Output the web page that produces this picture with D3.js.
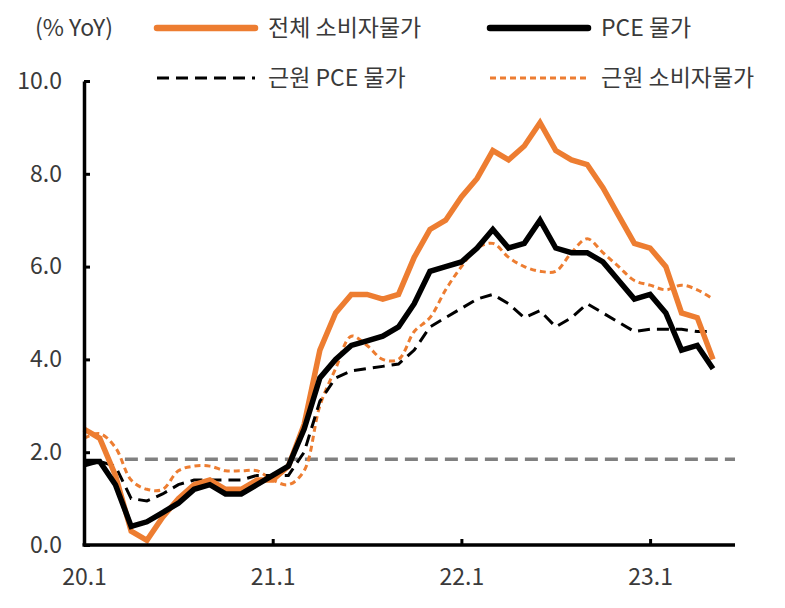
<!DOCTYPE html>
<html><head><meta charset="utf-8">
<script src="https://cdn.jsdelivr.net/npm/d3@7"></script>
<style>
html,body{margin:0;padding:0;background:#fff;}
svg{display:block;}
text{font-family:"Noto Sans CJK KR","Noto Sans",sans-serif;fill:#3a3a3a;}
</style></head>
<body><svg id="c" width="785" height="608"></svg>
<script>
const months = ["20.1","20.2","20.3","20.4","20.5","20.6","20.7","20.8","20.9","20.10","20.11","20.12",
"21.1","21.2","21.3","21.4","21.5","21.6","21.7","21.8","21.9","21.10","21.11","21.12",
"22.1","22.2","22.3","22.4","22.5","22.6","22.7","22.8","22.9","22.10","22.11","22.12",
"23.1","23.2","23.3","23.4","23.5"];
const cpi = [2.5,2.3,1.5,0.3,0.1,0.6,1.0,1.3,1.4,1.2,1.2,1.4,
1.4,1.7,2.6,4.2,5.0,5.4,5.4,5.3,5.4,6.2,6.8,7.0,
7.5,7.9,8.5,8.3,8.6,9.1,8.5,8.3,8.2,7.7,7.1,6.5,
6.4,6.0,5.0,4.9,4.0];
const pce = [1.8,1.8,1.3,0.4,0.5,0.7,0.9,1.2,1.3,1.1,1.1,1.3,
1.5,1.7,2.5,3.6,4.0,4.3,4.4,4.5,4.7,5.2,5.9,6.0,
6.1,6.4,6.8,6.4,6.5,7.0,6.4,6.3,6.3,6.1,5.7,5.3,
5.4,5.0,4.2,4.3,3.8];
const corePce = [1.7,1.8,1.7,1.0,0.95,1.1,1.3,1.4,1.4,1.4,1.4,1.5,
1.5,1.5,2.0,3.1,3.6,3.75,3.8,3.85,3.9,4.2,4.7,4.9,
5.1,5.3,5.4,5.2,4.9,5.05,4.7,4.9,5.2,5.0,4.8,4.6,
4.65,4.65,4.65,4.6,4.6];
const coreCpi = [2.3,2.4,2.1,1.4,1.2,1.2,1.6,1.7,1.7,1.6,1.6,1.6,
1.4,1.3,1.6,3.0,3.8,4.5,4.3,4.0,4.0,4.6,4.9,5.5,
6.0,6.4,6.5,6.2,6.0,5.9,5.9,6.3,6.6,6.3,6.0,5.7,
5.6,5.5,5.6,5.5,5.3];
const refLevel = [1.85];
const yTicks = [0,2,4,6,8,10];
const xTickLabels = ["20.1","21.1","22.1","23.1"];
const seriesNames = ["전체 소비자물가","PCE 물가","근원 PCE 물가","근원 소비자물가"];
const unitLabel = "(% YoY)";

const ORANGE = "#ED7D31";
const FS = 23;
const svg = d3.select("#c");
const x = d3.scaleLinear().domain([0, months.length-1]).range([84, 713]);
const xEnd = 41.4, refStart = 2.6;
const y = d3.scaleLinear().domain([0, 10]).range([545, 81]);

// reference line
svg.append("line")
  .attr("x1", x(refStart)).attr("x2", x(xEnd))
  .attr("y1", y(refLevel[0])).attr("y2", y(refLevel[0]))
  .attr("stroke", "#808080").attr("stroke-width", 3.5).attr("stroke-dasharray", "13,7");

const mk = (curve) => d3.line().x((d,i)=>x(i)).y(d=>y(d)).curve(curve);

const styles = [
  {data: coreCpi, color: ORANGE, w: 3, dash: "6,4", curve: d3.curveCatmullRom},
  {data: corePce, color: "#000", w: 3, dash: "12,7", curve: d3.curveLinear},
  {data: cpi, color: ORANGE, w: 5.5, dash: null, curve: d3.curveLinear},
  {data: pce, color: "#000", w: 5.5, dash: null, curve: d3.curveLinear},
];
styles.forEach(s => {
  svg.append("path").datum(s.data)
    .attr("d", mk(s.curve)(s.data))
    .attr("fill","none").attr("stroke", s.color).attr("stroke-width", s.w)
    .attr("stroke-dasharray", s.dash).attr("stroke-linejoin","miter");
});

// axes
const yAxis = d3.axisLeft(y).tickValues(yTicks).tickFormat(d3.format(".1f")).tickSizeInner(-6).tickSizeOuter(0).tickPadding(22);
const gy = svg.append("g").attr("transform", `translate(${x(0)},0)`).call(yAxis);
gy.select(".domain").attr("stroke","#000").attr("stroke-width",3.5);
gy.selectAll(".tick line").attr("stroke","#000").attr("stroke-width",3);
gy.selectAll(".tick text").attr("font-size",FS).style("fill","#3a3a3a");

const xAxis = d3.axisBottom(x).tickValues([0,12,24,36]).tickFormat((d,i)=>xTickLabels[i]).tickSizeInner(-6).tickSizeOuter(0).tickPadding(24);
const gx = svg.append("g").attr("transform", `translate(0,${y(0)})`).call(xAxis);
gx.select(".domain").remove();
gx.append("line").attr("x1", x(0)-1.5).attr("x2", x(xEnd)).attr("stroke","#000").attr("stroke-width",3.5);
gx.selectAll(".tick line").attr("stroke","#000").attr("stroke-width",3);
gx.selectAll(".tick text").attr("font-size",FS).style("fill","#3a3a3a");

// legend
svg.append("text").attr("x",35).attr("y",36).attr("font-size",FS).text(unitLabel);
const leg = [
  {x:157, y:28, s: styles[2], t: seriesNames[0]},
  {x:490, y:28, s: styles[3], t: seriesNames[1]},
  {x:157, y:78, s: styles[1], t: seriesNames[2]},
  {x:490, y:78, s: styles[0], t: seriesNames[3]},
];
leg.forEach(l => {
  svg.append("line").attr("x1", l.x).attr("x2", l.x+98).attr("y1", l.y).attr("y2", l.y)
    .attr("stroke", l.s.color).attr("stroke-width", l.s.w + (l.s.dash?0:1))
    .attr("stroke-dasharray", l.s.dash).attr("stroke-linecap", l.s.dash?"butt":"round");
  svg.append("text").attr("x", l.x+111).attr("y", l.y+8).attr("font-size",FS).text(l.t);
});
</script></body></html>
